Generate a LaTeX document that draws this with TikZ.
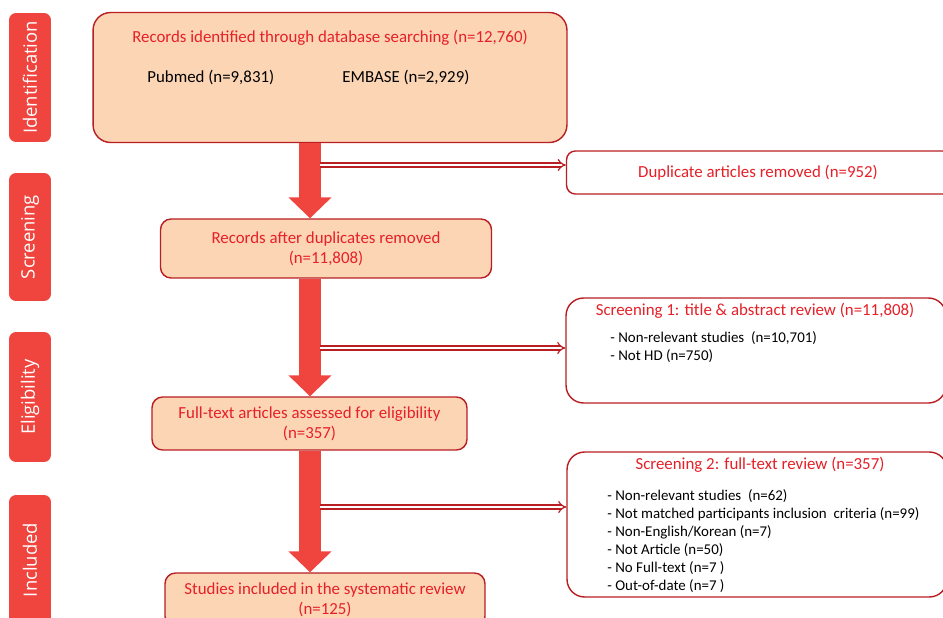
\documentclass[tikz,border=0pt]{standalone}
\usepackage{fontspec}
\setmainfont{Carlito}
\newfontfamily\phasefont{Open Sans}
\usetikzlibrary{arrows,arrows.meta,positioning}
\definecolor{boxfill}{RGB}{252,213,180}
\definecolor{boxline}{RGB}{185,30,35}
\definecolor{redtext}{RGB}{230,32,40}
\definecolor{phasered}{RGB}{240,68,62}

\begin{document}
\begin{tikzpicture}[x=0.02cm,y=-0.02cm]
\tikzstyle{phase}=[fill=phasered,rounded corners=4pt,rotate=90,text=white,font=\phasefont\fontsize{10.5}{12}\selectfont,inner sep=0pt]
\tikzstyle{stagebox}=[draw=boxline,fill=boxfill,line width=0.8pt,rounded corners=6pt,align=center,text=redtext,font=\fontsize{9.6}{11.5}\selectfont]
\tikzstyle{outbox}=[draw=boxline,fill=white,line width=0.8pt,rounded corners=5pt]
\tikzstyle{redtitle}=[text=redtext,font=\fontsize{9.6}{11}\selectfont,inner sep=0pt]
\tikzstyle{itemlist}=[align=left,font=\fontsize{8.5}{10.3}\selectfont,inner sep=0pt,anchor=north west]
\tikzstyle{bigarrow}=[draw=phasered,line width=0.44cm,-{Triangle[width=0.84cm,length=0.42cm]}]
\tikzstyle{sidearrow}=[draw=boxline,double=white,double distance=1.6pt,line width=0.7pt,-{Implies}]
\useasboundingbox (0,0) rectangle (943,618);

% phases
\node [phase,minimum width=2.58cm,minimum height=0.84cm] at (30,77.5) (pid) {Identification};
\node [phase,minimum width=2.56cm,minimum height=0.84cm] at (30,237) (psc) {Screening};
\node [phase,minimum width=2.6cm,minimum height=0.84cm] at (30,397) (pel) {Eligibility};
\node [phase,minimum width=2.6cm,minimum height=0.84cm] at (30,560) (pin) {Included};

% main column
\node [stagebox,minimum width=9.48cm,minimum height=2.6cm,rounded corners=10pt] at (330,77.5) (ident) {};
\node [redtitle] at (330,38) (identtitle) {Records identified through database searching (n=12,760)};
\node [font=\fontsize{9.6}{11}\selectfont,inner sep=0pt,anchor=west] at (147,78) (pubmed) {Pubmed (n=9,831)};
\node [font=\fontsize{9.6}{11}\selectfont,inner sep=0pt,anchor=west] at (342,78) (embase) {EMBASE (n=2,929)};
\node [stagebox,minimum width=6.62cm,minimum height=1.18cm] at (326,248.5) (afterdup) {Records after duplicates removed\\(n=11,808)};
\node [stagebox,minimum width=6.3cm,minimum height=1.06cm] at (309.5,423.5) (fulltext) {Full-text articles assessed for eligibility\\(n=357)};
\node [stagebox,minimum width=6.4cm,minimum height=1.08cm] at (325,600) (included) {Studies included in the systematic review\\(n=125)};

% excluded
\node [outbox,minimum width=7.7cm,minimum height=0.86cm] at (759,172.5) (dup) {};
\node [redtitle] at (758,173) (duptitle) {Duplicate articles removed (n=952)};
\node [outbox,minimum width=7.6cm,minimum height=2.1cm,rounded corners=10pt] at (756,350.5) (scr1) {};
\node [redtitle] at (755,311) (scr1title) {Screening 1: title \& abstract review (n=11,808)};
\node [itemlist] at (610,331) (scr1items) {- Non-relevant studies~ (n=10,701)\\- Not HD (n=750)};
\node [outbox,minimum width=7.6cm,minimum height=2.9cm,rounded corners=10pt] at (757,524.5) (scr2) {};
\node [redtitle] at (760,465) (scr2title) {Screening 2: full-text review (n=357)};
\node [itemlist] at (607,489) (scr2items) {- Non-relevant studies~ (n=62)\\- Not matched participants inclusion~ criteria (n=99)\\- Non-English/Korean (n=7)\\- Not Article (n=50)\\- No Full-text (n=7 )\\- Out-of-date (n=7 )};

% arrows
\coordinate (a1) at (310,165);
\coordinate (a2) at (310,348);
\coordinate (a3) at (310,507);
\draw [bigarrow] (ident.south -| a1) -- (afterdup.north -| a1);
\draw [bigarrow] (afterdup.south -| a1) -- (fulltext.north -| a1);
\draw [bigarrow] (fulltext.south -| a1) -- (included.north -| a1);
\draw [sidearrow] ([xshift=0.2cm]a1) -- (a1 -| dup.west);
\draw [sidearrow] ([xshift=0.2cm]a2) -- (a2 -| scr1.west);
\draw [sidearrow] ([xshift=0.2cm]a3) -- (a3 -| scr2.west);
\end{tikzpicture}
\end{document}
